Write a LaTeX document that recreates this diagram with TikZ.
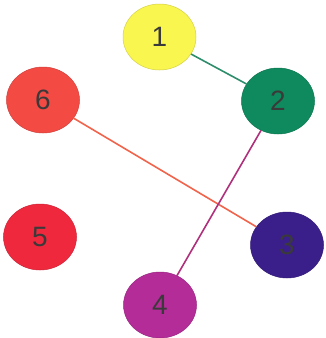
\documentclass[tikz,border=0pt]{standalone}
\usepackage{fontspec}
\setmainfont{Liberation Sans}
\usetikzlibrary{shapes.geometric}
\definecolor{cyel}{HTML}{FAF650}
\definecolor{cgreen}{HTML}{0E8A5E}
\definecolor{csix}{HTML}{F44A44}
\definecolor{cfive}{HTML}{F0283E}
\definecolor{cthree}{HTML}{3A1F8A}
\definecolor{cfour}{HTML}{B42C98}
\definecolor{lgreen}{HTML}{2E8E6C}
\definecolor{lorange}{HTML}{F0644C}
\definecolor{lpurple}{HTML}{B0307C}
\definecolor{txt}{HTML}{3A3A3A}
\tikzset{
  ball/.style={ellipse, minimum width=73pt, minimum height=66pt, inner sep=0pt,
    draw=#1!85!black, line width=0.5pt, fill=#1, text=txt,
    font=\fontsize{28}{28}\selectfont},
  link/.style={line width=1.6pt}
}
\begin{document}
\begin{tikzpicture}[x=1pt,y=-1pt]
\useasboundingbox (0,0) rectangle (326,338);
\node[ball=cyel] (n1) at (159.5,37) {1};
\node[ball=cgreen] (n2) at (278,101) {2};
\node[ball=csix] (n6) at (43,100) {6};
\node[ball=cfive] (n5) at (40,237) {5};
\node[ball=cthree] (n3) at (287,245) {3};
\node[ball=cfour] (n4) at (160,305) {4};
\draw[link, lgreen] (n1) -- (n2);
\draw[link, lorange] (n6) -- (n3);
\draw[link, lpurple] (n2) -- (n4);
\end{tikzpicture}
\end{document}
